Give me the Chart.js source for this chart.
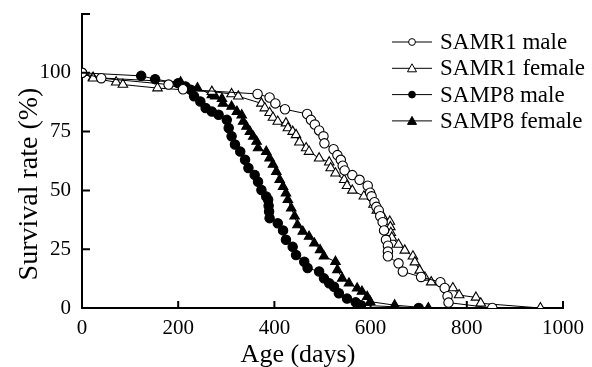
<!DOCTYPE html>
<html lang="en">
<head>
  <meta charset="UTF-8">
  <title>Survival rate</title>
  <script src="https://cdn.jsdelivr.net/npm/chart.js"></script>
  <style>
    html, body { margin: 0; padding: 0; background: #fff; }
    #wrap { width: 592px; height: 367px; }
  </style>
</head>
<body>
  <div id="wrap"><canvas id="chart-surv"></canvas></div>

  <script>
    // survival data (age in days, survival in %)
    const r1MaleAge   = [0, 40, 180, 210, 365, 390, 402, 422, 468, 476, 484, 493, 502, 504, 523, 531, 538, 542, 546, 562, 577, 594, 599, 602, 608, 612, 617, 620, 625, 628, 632, 636, 636, 636, 658, 667, 705, 745, 754, 760, 762, 853];
    const r1MaleSurv  = [100, 97.7, 95, 93, 91, 89.5, 87, 84.5, 82.5, 80, 78, 75.5, 73, 70, 67.5, 65, 63, 60.5, 58.5, 56.5, 54.5, 52, 49, 47.5, 45, 43, 41.5, 39, 36.5, 33, 29, 26.5, 24, 22, 19, 15.5, 13.2, 11, 8.5, 5, 2.3, 0];

    const r1FemAge    = [0, 23, 71, 85, 157, 270, 311, 325, 373, 380, 390, 397, 407, 424, 428, 438, 445, 452, 466, 472, 493, 514, 517, 527, 545, 551, 562, 586, 606, 613, 625, 640, 641, 642, 644, 658, 671, 688, 692, 702, 713, 726, 771, 784, 819, 829, 953];
    const r1FemSurv   = [100, 97.7, 96, 95, 93.5, 92, 91, 90, 87, 85, 83, 81, 79.3, 78.6, 76.5, 75, 73.6, 70.5, 68, 66.5, 63.7, 62, 59.5, 57.3, 54.5, 52, 50, 47.5, 44, 41.5, 39, 36.8, 34.5, 32, 30, 27, 24.5, 22, 19.5, 16, 13, 11, 8.5, 5.5, 4.5, 2, 0];

    const p8MaleAge   = [0, 123, 152, 200, 215, 226, 233, 246, 257, 270, 284, 301, 305, 311, 318, 329, 339, 346, 359, 366, 373, 383, 387, 388, 389, 390, 407, 418, 424, 438, 445, 462, 469, 493, 503, 514, 524, 534, 551, 569, 580, 700];
    const p8MaleSurv  = [100, 98.7, 97.3, 95.6, 94.2, 92.8, 90, 87.8, 85, 83.5, 82.2, 80, 76.5, 73, 69.5, 66.5, 63, 59.5, 56.6, 53.7, 50.2, 47.4, 46, 43.5, 41, 38.2, 36, 33, 29, 26, 22.5, 19.7, 17, 15.5, 12.6, 10.5, 9, 6.3, 4, 2.4, 1.2, 0];

    const p8FemAge    = [0, 23, 205, 240, 270, 277, 291, 293, 311, 322, 332, 335, 342, 349, 356, 363, 366, 383, 390, 397, 404, 411, 418, 424, 428, 435, 442, 448, 459, 472, 483, 495, 503, 527, 531, 541, 555, 572, 582, 593, 599, 650, 720];
    const p8FemSurv   = [100, 98, 96, 93.5, 90.6, 90, 89, 87, 85.7, 83.5, 82, 79.3, 77.2, 75, 72.9, 70.8, 68, 66.5, 63.7, 61, 58, 54.5, 51.6, 48.8, 46, 42.4, 39, 35.3, 32.5, 30.4, 27.5, 24.7, 22, 19.7, 16.2, 12.6, 10.5, 8.4, 7, 4.8, 2.7, 1.2, 0];

    const xTicks = [0, 200, 400, 600, 800, 1000];
    const yTicks = [0, 25, 50, 75, 100];
    const xTitle = 'Age (days)';
    const yTitle = 'Survival rate (%)';

    const serif = '"Liberation Serif", "Times New Roman", serif';

    function pts(ages, surv) {
      return ages.map((a, i) => ({ x: a, y: surv[i] }));
    }

    function series(label, ages, surv, shape, filled) {
      return {
        label,
        data: pts(ages, surv),
        borderColor: '#000',
        borderWidth: 1,
        pointStyle: shape,
        pointRadius: shape === 'triangle' ? 5.5 : 4.7,
        pointBorderWidth: 1.1,
        pointBorderColor: '#000',
        pointBackgroundColor: filled ? '#000' : '#fff',
        tension: 0
      };
    }

    // inward tick marks + axis titles placed like the original figure
    const axisDecor = {
      id: 'axisDecor',
      afterDraw(chart) {
        const { ctx, scales: { x, y } } = chart;
        ctx.save();
        ctx.strokeStyle = '#000';
        ctx.lineWidth = 2;
        ctx.beginPath();
        xTicks.forEach(v => {
          const px = x.getPixelForValue(v);
          ctx.moveTo(px, y.bottom);
          ctx.lineTo(px, y.bottom - 7);
        });
        yTicks.concat([125]).forEach(v => {
          const py = y.getPixelForValue(v);
          ctx.moveTo(x.left, py);
          ctx.lineTo(x.left + 8, py);
        });
        ctx.stroke();

        ctx.fillStyle = '#000';
        ctx.textAlign = 'center';
        ctx.textBaseline = 'middle';
        ctx.font = '26px ' + serif;
        ctx.fillText(xTitle, 298, 355);
        ctx.translate(30, 184);
        ctx.rotate(-Math.PI / 2);
        ctx.font = '28px ' + serif;
        ctx.fillText(yTitle, 0, 0);
        ctx.restore();
      }
    };

    // legend: short line with marker, then label
    const lineLegend = {
      id: 'lineLegend',
      afterDraw(chart) {
        const ctx = chart.ctx;
        ctx.save();
        ctx.font = '23px ' + serif;
        ctx.textBaseline = 'middle';
        chart.data.datasets.forEach((ds, i) => {
          const cy = 42 + i * 26.3;
          ctx.strokeStyle = '#000';
          ctx.lineWidth = 1;
          ctx.beginPath();
          ctx.moveTo(392, cy);
          ctx.lineTo(432, cy);
          ctx.stroke();
          ctx.fillStyle = ds.pointBackgroundColor;
          ctx.beginPath();
          if (ds.pointStyle === 'triangle') {
            ctx.moveTo(412, cy - 4.5);
            ctx.lineTo(416.5, cy + 3.5);
            ctx.lineTo(407.5, cy + 3.5);
            ctx.closePath();
          } else {
            ctx.arc(412, cy, 3.4, 0, Math.PI * 2);
          }
          ctx.fill();
          ctx.stroke();
          ctx.fillStyle = '#000';
          ctx.fillText(ds.label, 440, cy + 1);
        });
        ctx.restore();
      }
    };

    new Chart(document.getElementById('chart-surv'), {
      type: 'line',
      data: {
        datasets: [
          series('SAMR1 male', r1MaleAge, r1MaleSurv, 'circle', false),
          series('SAMR1 female', r1FemAge, r1FemSurv, 'triangle', false),
          series('SAMP8 male', p8MaleAge, p8MaleSurv, 'circle', true),
          series('SAMP8 female', p8FemAge, p8FemSurv, 'triangle', true)
        ]
      },
      options: {
        responsive: true,
        maintainAspectRatio: false,
        animation: false,
        layout: { padding: { top: 14, right: 24, left: 0, bottom: 0 } },
        plugins: { legend: { display: false }, tooltip: { enabled: false } },
        scales: {
          x: {
            type: 'linear',
            min: 0, max: 1000,
            afterFit: s => { s.height = 59; },
            grid: { display: false, drawTicks: false },
            border: { display: true, color: '#000', width: 2 },
            ticks: { stepSize: 200, padding: 8, color: '#000', font: { family: serif, size: 21 }, callback: v => String(v) }
          },
          y: {
            min: 0, max: 125,
            afterFit: s => { s.width = 82; s.paddingTop = 0; s.paddingBottom = 0; },
            grid: { display: false, drawTicks: false },
            border: { display: true, color: '#000', width: 2 },
            ticks: {
              stepSize: 25, padding: 11, color: '#000',
              font: { family: serif, size: 21 },
              callback: v => v === 125 ? null : String(v)
            }
          }
        }
      },
      plugins: [axisDecor, lineLegend]
    });
  </script>
</body>
</html>
